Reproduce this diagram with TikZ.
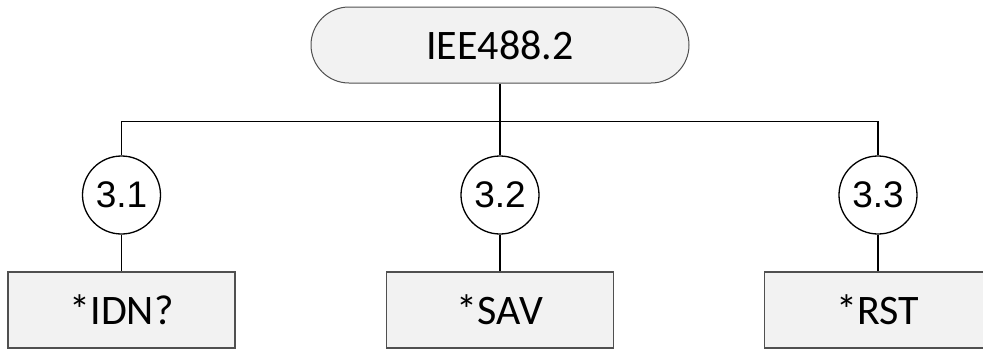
\documentclass[tikz,border=0pt]{standalone}
\usepackage{fontspec}
\setmainfont{Carlito}
\newfontfamily\arialf{Liberation Sans}
\definecolor{boxfill}{HTML}{F2F2F2}
\definecolor{boxline}{HTML}{505050}
\begin{document}
\begin{tikzpicture}[x=1pt,y=-1pt,
  topbox/.style={draw=boxline, line width=1pt, fill=boxfill, rounded corners=38pt,
    minimum width=378pt, minimum height=76pt, inner sep=0pt,
    font=\fontsize{42}{48}\selectfont},
  numcircle/.style={draw=black, line width=1.3pt, fill=white, circle, minimum size=78pt, inner sep=0pt,
    font=\arialf\fontsize{37}{42}\selectfont},
  cmdbox/.style={draw=boxline, line width=1.3pt, fill=boxfill, minimum width=227pt, minimum height=76pt,
    inner sep=0pt, font=\fontsize{42}{48}\selectfont},
  link/.style={draw=black, line width=1.5pt}]
\useasboundingbox (0,0) rectangle (983,349);
\fill[white] (0,0) rectangle (983,349);
\node[topbox] (top) at (500,45) {IEE488.2};
\node[numcircle] (c1) at (121.5,195) {3.1};
\node[numcircle] (c2) at (500,195) {3.2};
\node[numcircle] (c3) at (878,195) {3.3};
\node[cmdbox] (b1) at (121.5,310) {*IDN?};
\node[cmdbox] (b2) at (500,310) {*SAV};
\node[cmdbox] (b3) at (878,310) {*RST};
\coordinate (hl) at (121.5,121.5);
\coordinate (hr) at (878,121.5);
\path[link] (c1.north) -- (hl) -- (hr) -- (c3.north);
\path[link] (top.south) -- (c2.north);
\path[link] (c1.south) -- (b1.north);
\path[link] (c2.south) -- (b2.north);
\path[link] (c3.south) -- (b3.north);
\end{tikzpicture}
\end{document}
